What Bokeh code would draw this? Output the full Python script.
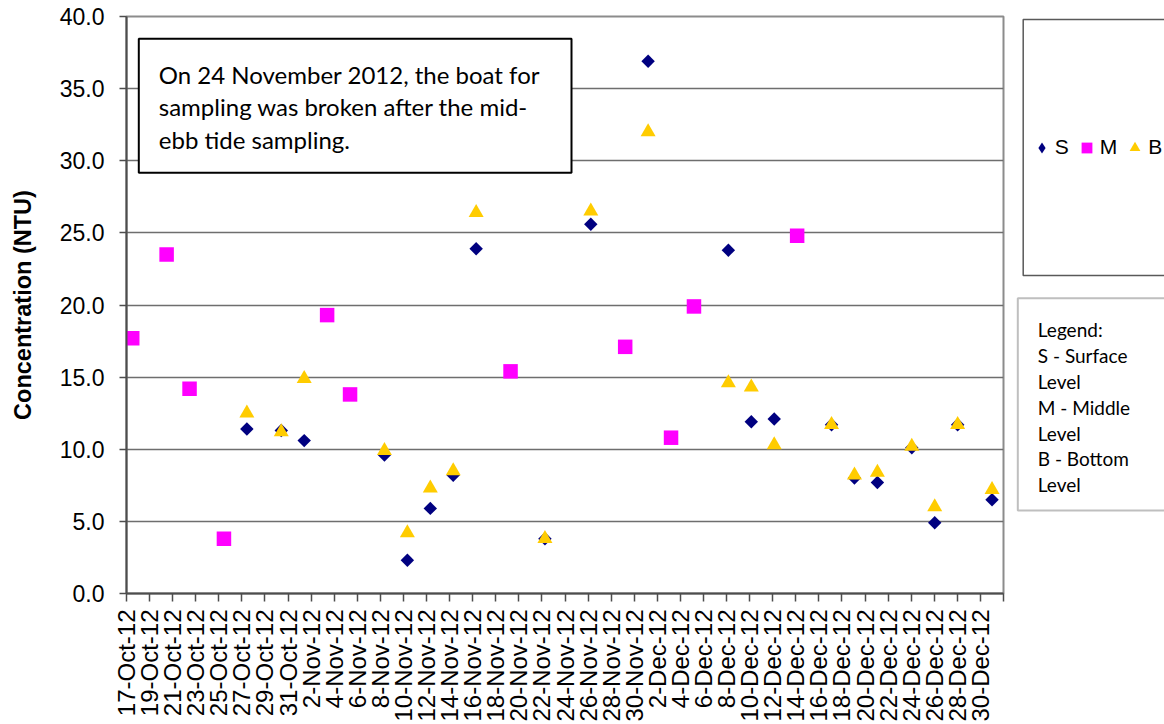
import numpy as np
import pandas as pd
from bokeh.plotting import figure
from bokeh.layouts import row
from bokeh.models import (Range1d, FixedTicker, NumeralTickFormatter, Legend,
                          LegendItem, BoxAnnotation, Label)
from bokeh.embed import file_html
from bokeh.resources import INLINE

# ---------------- data ----------------
start_date = "2012-10-17"

x_labels = ["17-Oct-12", "19-Oct-12", "21-Oct-12", "23-Oct-12", "25-Oct-12",
            "27-Oct-12", "29-Oct-12", "31-Oct-12", "2-Nov-12", "4-Nov-12",
            "6-Nov-12", "8-Nov-12", "10-Nov-12", "12-Nov-12", "14-Nov-12",
            "16-Nov-12", "18-Nov-12", "20-Nov-12", "22-Nov-12", "24-Nov-12",
            "26-Nov-12", "28-Nov-12", "30-Nov-12", "2-Dec-12", "4-Dec-12",
            "6-Dec-12", "8-Dec-12", "10-Dec-12", "12-Dec-12", "14-Dec-12",
            "16-Dec-12", "18-Dec-12", "20-Dec-12", "22-Dec-12", "24-Dec-12",
            "26-Dec-12", "28-Dec-12", "30-Dec-12"]
y_ticks = [0, 5, 10, 15, 20, 25, 30, 35, 40]

s_dates = ["2012-10-27", "2012-10-30", "2012-11-01", "2012-11-08", "2012-11-10",
           "2012-11-12", "2012-11-14", "2012-11-16", "2012-11-22", "2012-11-26",
           "2012-12-01", "2012-12-08", "2012-12-10", "2012-12-12", "2012-12-17",
           "2012-12-19", "2012-12-21", "2012-12-24", "2012-12-26", "2012-12-28",
           "2012-12-31"]
s_values = [11.4, 11.3, 10.6, 9.6, 2.3, 5.9, 8.2, 23.9, 3.8, 25.6,
            36.9, 23.8, 11.9, 12.1, 11.7, 8.0, 7.7, 10.1, 4.9, 11.7, 6.5]

m_dates = ["2012-10-17", "2012-10-20", "2012-10-22", "2012-10-25", "2012-11-03",
           "2012-11-05", "2012-11-19", "2012-11-29", "2012-12-03", "2012-12-05",
           "2012-12-14"]
m_values = [17.7, 23.5, 14.2, 3.8, 19.3, 13.8, 15.4, 17.1, 10.8, 19.9, 24.8]

b_dates = ["2012-10-27", "2012-10-30", "2012-11-01", "2012-11-08", "2012-11-10",
           "2012-11-12", "2012-11-14", "2012-11-16", "2012-11-22", "2012-11-26",
           "2012-12-01", "2012-12-08", "2012-12-10", "2012-12-12", "2012-12-17",
           "2012-12-19", "2012-12-21", "2012-12-24", "2012-12-26", "2012-12-28",
           "2012-12-31"]
b_values = [12.5, 11.2, 14.9, 9.9, 4.2, 7.3, 8.5, 26.4, 3.8, 26.5,
            32.0, 14.6, 14.3, 10.3, 11.7, 8.2, 8.4, 10.2, 6.0, 11.7, 7.2]

series_names = ["S", "M", "B"]
note_lines = ["On 24 November 2012, the boat for",
              "sampling was broken after the mid-",
              "ebb tide sampling."]
key_lines = ["Legend:", "S - Surface", "Level", "M - Middle", "Level",
             "B - Bottom", "Level"]

# ---------------- helpers ----------------
start = pd.Timestamp(start_date)


def day_index(dates, fmt=None):
    return (pd.to_datetime(dates, format=fmt) - start).days.to_numpy()


S_COLOR, M_COLOR, B_COLOR = "#000080", "#FF00FF", "#FFCC00"
AXIS_COLOR = "#4d4d4d"

H = 724
W1 = 1010                                  # main chart figure
W2 = 154                                   # side panel with the keys
FL, FT, FW, FH = 126, 16, 877, 577          # frame placement inside the main figure
FB = FT + FH                                # frame bottom (page y)


def sx(px):            # page x -> main frame screen units
    return px - FL


def sy(py):            # page y -> frame screen units (upwards)
    return FB - py


def sx2(px):           # page x -> side panel screen units
    return px - W1


X_START, X_END = -0.5, 76.0

p = figure(width=W1, height=H, x_range=Range1d(X_START, X_END),
           y_range=Range1d(0, 40), output_backend="svg",
           toolbar_location=None, title=None,
           min_border_left=FL, min_border_top=FT,
           min_border_right=W1 - FL - FW, min_border_bottom=H - FB)
p.background_fill_color = "white"
p.border_fill_color = "white"
p.outline_line_color = "#8c8c8c"
p.outline_line_width = 2

# ---------------- axes ----------------
tick_pos = [float(v) for v in np.linspace(X_START, X_END, len(x_labels) + 1)]
p.xaxis.ticker = FixedTicker(ticks=tick_pos)
p.xaxis.major_label_overrides = {v: t for v, t in zip(tick_pos, x_labels + [""])}
p.xaxis.major_label_orientation = np.pi / 2
p.xaxis.major_tick_out = 8
p.xaxis.major_tick_in = 0
p.xaxis.major_tick_line_color = AXIS_COLOR
p.xaxis.major_tick_line_width = 1.5
p.xaxis.minor_tick_line_color = None
p.xaxis.major_label_standoff = 8
p.xaxis.major_label_text_font = "Liberation Sans"
p.xaxis.major_label_text_font_size = "24px"
p.xaxis.major_label_text_color = "black"
p.xaxis.axis_line_color = AXIS_COLOR
p.xaxis.axis_line_width = 2

p.yaxis.ticker = FixedTicker(ticks=y_ticks)
p.yaxis.formatter = NumeralTickFormatter(format="0.0")
p.yaxis.major_tick_out = 7
p.yaxis.major_tick_in = 0
p.yaxis.major_tick_line_color = AXIS_COLOR
p.yaxis.major_tick_line_width = 1.5
p.yaxis.minor_tick_line_color = None
p.yaxis.major_label_standoff = 15
p.yaxis.major_label_text_font = "Liberation Sans"
p.yaxis.major_label_text_font_size = "23px"
p.yaxis.major_label_text_color = "black"
p.yaxis.axis_line_color = AXIS_COLOR
p.yaxis.axis_line_width = 2
p.yaxis.axis_label = "Concentration (NTU)"
p.yaxis.axis_label_text_font = "Liberation Sans"
p.yaxis.axis_label_text_font_size = "23.5px"
p.yaxis.axis_label_text_font_style = "bold"
p.yaxis.axis_label_text_color = "black"
p.yaxis.axis_label_standoff = 21

p.xgrid.visible = False
p.ygrid.grid_line_color = "#6e6e6e"
p.ygrid.grid_line_width = 1.3

# ---------------- series ----------------
p.scatter(day_index(s_dates), s_values, marker="square", angle=np.pi / 4,
          size=9.5, fill_color=S_COLOR, line_color=None)
p.scatter(day_index(m_dates), m_values, marker="square", size=14.5,
          fill_color=M_COLOR, line_color=None)
p.scatter(day_index(b_dates), b_values, marker="triangle", size=15,
          fill_color=B_COLOR, line_color=None)

# ---------------- note box ----------------
p.add_layout(BoxAnnotation(left=sx(138.3), right=sx(571), top=sy(38.3), bottom=sy(172.3),
                           left_units="screen", right_units="screen",
                           top_units="screen", bottom_units="screen",
                           fill_color="white", fill_alpha=1.0,
                           line_color="black", line_alpha=1.0, line_width=2))
for i, line in enumerate(note_lines):
    p.add_layout(Label(x=sx(158.3), y=sy(74 + 32.3 * i), x_units="screen", y_units="screen",
                       text=line, text_font="Lato", text_font_size="24px",
                       text_color="black", text_baseline="alphabetic", text_align="left"))

# ---------------- side panel with the keys ----------------
p2 = figure(width=W2, height=H, x_range=Range1d(0, 80), y_range=Range1d(0, 40),
            output_backend="svg", toolbar_location=None, title=None,
            x_axis_type=None, y_axis_type=None,
            min_border_left=0, min_border_right=0,
            min_border_top=FT, min_border_bottom=H - FB)
p2.outline_line_color = None
p2.background_fill_color = "white"
p2.border_fill_color = "white"

# legend proxies (hidden copies of the series; legend glyphs are drawn unrotated,
# so the S key uses a diamond marker)
k_s = p2.scatter(day_index(s_dates), s_values, marker="diamond", size=9,
                 fill_color=S_COLOR, line_color=None, visible=False)
k_m = p2.scatter(day_index(m_dates), m_values, marker="square", size=14.5,
                 fill_color=M_COLOR, line_color=None, visible=False)
k_b = p2.scatter(day_index(b_dates), b_values, marker="triangle", size=15,
                 fill_color=B_COLOR, line_color=None, visible=False)

p2.add_layout(BoxAnnotation(left=sx2(1022.7), right=sx2(1220), top=sy(19), bottom=sy(275),
                            left_units="screen", right_units="screen",
                            top_units="screen", bottom_units="screen",
                            fill_color="white", fill_alpha=1.0,
                            line_color="#595959", line_alpha=1.0, line_width=1.5))
p2.add_layout(BoxAnnotation(left=sx2(1017.3), right=sx2(1220), top=sy(297.7), bottom=sy(510),
                            left_units="screen", right_units="screen",
                            top_units="screen", bottom_units="screen",
                            fill_color="white", fill_alpha=1.0,
                            line_color="#bfbfbf", line_alpha=1.0, line_width=2))

legend = Legend(items=[LegendItem(label=series_names[0], renderers=[k_s]),
                       LegendItem(label=series_names[1], renderers=[k_m]),
                       LegendItem(label=series_names[2], renderers=[k_b])],
                orientation="horizontal", location=(sx2(1027.8), sy(160.5)),
                glyph_width=27, glyph_height=27, label_width=0, label_standoff=0,
                spacing=4, padding=0, margin=0,
                border_line_color=None, background_fill_alpha=0.0,
                label_text_font="Liberation Sans", label_text_font_size="21px",
                label_text_color="black")
p2.add_layout(legend)

for i, line in enumerate(key_lines):
    p2.add_layout(Label(x=sx2(1037.3), y=sy(329.3 + 25.8 * i), x_units="screen", y_units="screen",
                        text=line, text_font="Lato", text_font_size="19px",
                        text_color="black", text_baseline="alphabetic", text_align="left"))

layout = row(p, p2, spacing=0)
open("out.html", "w").write(file_html(layout, INLINE))
